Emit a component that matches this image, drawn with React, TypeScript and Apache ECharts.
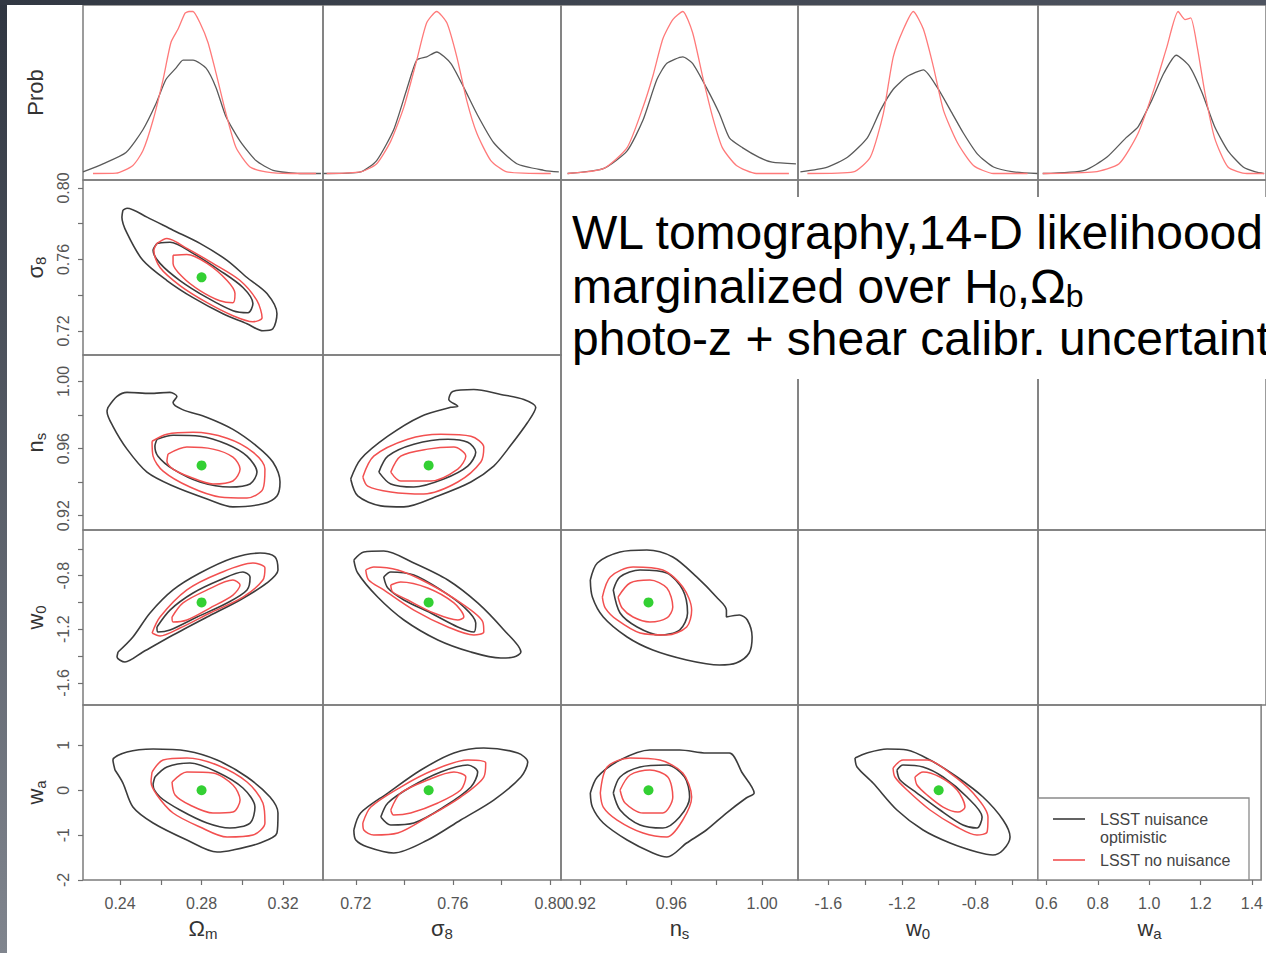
import React, { useEffect, useRef } from "react";
import * as echarts from "echarts";

const FONT = '"Liberation Sans", Arial, Helvetica, sans-serif';

// ---------------- axis ranges / ticks ----------------
const RANGE_OM = [0.2218, 0.3396];
const RANGE_S8 = [0.7065, 0.8045];
const RANGE_NS = [0.9115, 1.0158];
const RANGE_W0 = [-1.765, -0.46];
const RANGE_WA_COL = [0.567, 1.436];
const RANGE_WA_ROW = [-2.0, 1.9];
const RANGE_PROB = [-0.04, 1.04];

const TICKS_OM = [0.24, 0.26, 0.28, 0.3, 0.32];
const LABELS_OM = [0.24, 0.28, 0.32];
const TICKS_S8 = [0.72, 0.74, 0.76, 0.78, 0.8];
const LABELS_S8 = [0.72, 0.76, 0.8];
const TICKS_NS = [0.92, 0.94, 0.96, 0.98, 1.0];
const LABELS_NS = [0.92, 0.96, 1.0];
const TICKS_W0 = [-1.6, -1.4, -1.2, -1.0, -0.8, -0.6];
const LABELS_W0 = [-1.6, -1.2, -0.8];
const TICKS_WA_COL = [0.6, 0.8, 1.0, 1.2, 1.4];
const LABELS_WA_COL = [0.6, 0.8, 1.0, 1.2, 1.4];
const TICKS_WA_ROW = [-2, -1, 0, 1];
const LABELS_WA_ROW = [-2, -1, 0, 1];

const X_NAMES = ["{m|Ω}{s|m}", "{m|σ}{s|8}", "{m|n}{s|s}", "{m|w}{s|0}", "{m|w}{s|a}"];
const Y_NAMES = ["{m|Prob}", "{m|σ}{s|8}", "{m|n}{s|s}", "{m|w}{s|0}", "{m|w}{s|a}"];

// fiducial values (green dots)
const FID_OM = 0.28;
const FID_S8 = 0.75;
const FID_NS = 0.95;
const FID_W0 = -1.0;
const FID_WA = 0.0;

// ---------------- 1D marginals (x, Prob) ----------------
const OM_PROB_K = [[0.2218,0.01],[0.2316,0.06],[0.2429,0.13],[0.2512,0.27],[0.2576,0.43],[0.2625,0.58],[0.2674,0.65],[0.2709,0.70],[0.2758,0.70],[0.2822,0.65],[0.2871,0.53],[0.2920,0.35],[0.2989,0.20],[0.3067,0.08],[0.3151,0.02],[0.3283,0],[0.3386,0]];
const OM_PROB_R = [[0.2267,0],[0.2380,0.002],[0.2463,0.05],[0.2512,0.14],[0.2562,0.33],[0.2611,0.58],[0.2650,0.81],[0.2684,0.89],[0.2719,0.99],[0.2738,1.0],[0.2758,1.0],[0.2792,0.93],[0.2831,0.81],[0.2871,0.62],[0.2920,0.37],[0.2969,0.16],[0.3038,0.04],[0.3116,0.01],[0.3234,0],[0.3362,0]];
const S8_PROB_K = [[0.7068,0],[0.7220,0.01],[0.7286,0.08],[0.7356,0.27],[0.7410,0.52],[0.7451,0.70],[0.7492,0.72],[0.7533,0.75],[0.7591,0.68],[0.7645,0.53],[0.7698,0.37],[0.7768,0.19],[0.7863,0.06],[0.7974,0.02],[0.8036,0.01]];
const S8_PROB_R = [[0.7080,0],[0.7220,0.01],[0.7286,0.06],[0.7344,0.20],[0.7398,0.41],[0.7451,0.70],[0.7492,0.93],[0.7533,1.0],[0.7575,0.93],[0.7616,0.72],[0.7657,0.45],[0.7698,0.25],[0.7756,0.08],[0.7822,0.01],[0.8003,0]];
const NS_PROB_K = [[0.9144,0],[0.9301,0.03],[0.9406,0.14],[0.9476,0.33],[0.9537,0.58],[0.9581,0.68],[0.9651,0.72],[0.9694,0.68],[0.9755,0.53],[0.9812,0.37],[0.9856,0.22],[0.9913,0.16],[0.9987,0.10],[1.0044,0.07],[1.0149,0.06]];
const NS_PROB_R = [[0.9144,0],[0.9301,0.03],[0.9406,0.16],[0.9476,0.41],[0.9519,0.60],[0.9563,0.83],[0.9607,0.95],[0.9651,1.0],[0.9694,0.87],[0.9738,0.60],[0.9782,0.35],[0.9825,0.16],[0.9887,0.05],[0.9974,0],[1.0118,0]];
const W0_PROB_K = [[-1.752,0.01],[-1.605,0.04],[-1.496,0.10],[-1.388,0.22],[-1.317,0.39],[-1.247,0.52],[-1.170,0.60],[-1.083,0.64],[-1.007,0.53],[-0.936,0.39],[-0.866,0.25],[-0.789,0.12],[-0.702,0.04],[-0.593,0.01],[-0.463,0]];
const W0_PROB_R = [[-1.714,0],[-1.464,0.01],[-1.372,0.10],[-1.301,0.37],[-1.247,0.72],[-1.192,0.89],[-1.138,1.0],[-1.083,0.89],[-1.029,0.66],[-0.974,0.39],[-0.898,0.19],[-0.811,0.05],[-0.702,0],[-0.517,0]];
const WA_PROB_K = [[0.585,0],[0.745,0.02],[0.829,0.10],[0.902,0.22],[0.949,0.29],[1.000,0.45],[1.047,0.62],[1.094,0.73],[1.145,0.66],[1.192,0.50],[1.240,0.29],[1.291,0.14],[1.349,0.04],[1.396,0.01],[1.429,0]];
const WA_PROB_R = [[0.585,0],[0.782,0.01],[0.876,0.06],[0.949,0.25],[1.011,0.53],[1.058,0.78],[1.101,1.0],[1.127,0.95],[1.149,0.96],[1.174,0.78],[1.203,0.50],[1.240,0.22],[1.291,0.04],[1.363,0],[1.429,0]];

// ---------------- 2D contours ----------------
// sigma8 vs Omega_m
const OM_S8_K95 = [[0.2414,0.7876],[0.2434,0.7887],[0.2532,0.7837],[0.2660,0.7764],[0.2792,0.7690],[0.2925,0.7595],[0.3023,0.7499],[0.3121,0.7409],[0.3170,0.7296],[0.3150,0.7212],[0.3101,0.7201],[0.3023,0.7240],[0.2905,0.7296],[0.2758,0.7386],[0.2630,0.7482],[0.2512,0.7595],[0.2434,0.7747],[0.2409,0.7837]];
const OM_S8_K68 = [[0.2581,0.7690],[0.2645,0.7696],[0.2758,0.7634],[0.2890,0.7538],[0.3003,0.7443],[0.3052,0.7353],[0.3028,0.7302],[0.2954,0.7313],[0.2827,0.7386],[0.2694,0.7482],[0.2596,0.7578],[0.2562,0.7651]];
const OM_S8_R95 = [[0.2581,0.7690],[0.2630,0.7718],[0.2728,0.7662],[0.2856,0.7578],[0.2989,0.7482],[0.3072,0.7369],[0.3097,0.7274],[0.3052,0.7251],[0.2954,0.7285],[0.2827,0.7358],[0.2694,0.7454],[0.2596,0.7555],[0.2566,0.7651]];
const OM_S8_R68 = [[0.2660,0.7623],[0.2728,0.7628],[0.2827,0.7578],[0.2925,0.7482],[0.2964,0.7409],[0.2954,0.7358],[0.2890,0.7369],[0.2792,0.7426],[0.2709,0.7499],[0.2660,0.7578]];
// n_s vs Omega_m
const OM_NS_K95 = [[0.2341,0.9846],[0.2385,0.9911],[0.2434,0.9935],[0.2547,0.9929],[0.2645,0.9935],[0.2679,0.9911],[0.2660,0.9875],[0.2704,0.9834],[0.2827,0.9786],[0.2954,0.9715],[0.3072,0.9614],[0.3150,0.9520],[0.3185,0.9401],[0.3170,0.9318],[0.3101,0.9271],[0.2954,0.9253],[0.2827,0.9300],[0.2660,0.9377],[0.2532,0.9460],[0.2434,0.9597],[0.2365,0.9733],[0.2336,0.9822]];
const OM_NS_K68 = [[0.2581,0.9656],[0.2660,0.9680],[0.2792,0.9674],[0.2925,0.9626],[0.3023,0.9555],[0.3072,0.9460],[0.3038,0.9389],[0.2939,0.9371],[0.2792,0.9401],[0.2660,0.9478],[0.2586,0.9555],[0.2571,0.9614]];
const OM_NS_R95 = [[0.2557,0.9644],[0.2630,0.9686],[0.2758,0.9697],[0.2925,0.9662],[0.3052,0.9579],[0.3111,0.9478],[0.3101,0.9359],[0.3023,0.9306],[0.2890,0.9312],[0.2743,0.9371],[0.2611,0.9466],[0.2562,0.9555]];
const OM_NS_R68 = [[0.2635,0.9567],[0.2728,0.9609],[0.2856,0.9597],[0.2954,0.9549],[0.2989,0.9478],[0.2954,0.9407],[0.2856,0.9389],[0.2743,0.9431],[0.2660,0.9478],[0.2630,0.9526]];
// n_s vs sigma8
const S8_NS_K95 = [[0.7179,0.9419],[0.7220,0.9537],[0.7332,0.9674],[0.7468,0.9792],[0.7591,0.9846],[0.7620,0.9852],[0.7583,0.9893],[0.7599,0.9941],[0.7686,0.9952],[0.7797,0.9923],[0.7892,0.9893],[0.7941,0.9846],[0.7908,0.9757],[0.7826,0.9597],[0.7768,0.9496],[0.7674,0.9401],[0.7538,0.9318],[0.7398,0.9253],[0.7303,0.9259],[0.7208,0.9318]];
const S8_NS_K68 = [[0.7295,0.9460],[0.7332,0.9555],[0.7439,0.9626],[0.7579,0.9656],[0.7661,0.9638],[0.7694,0.9579],[0.7661,0.9496],[0.7562,0.9419],[0.7439,0.9371],[0.7344,0.9389]];
const S8_NS_R95 = [[0.7229,0.9431],[0.7274,0.9555],[0.7414,0.9656],[0.7550,0.9686],[0.7674,0.9674],[0.7727,0.9609],[0.7715,0.9520],[0.7620,0.9401],[0.7480,0.9330],[0.7344,0.9342],[0.7249,0.9377]];
const S8_NS_R68 = [[0.7344,0.9460],[0.7385,0.9555],[0.7496,0.9597],[0.7604,0.9609],[0.7653,0.9555],[0.7620,0.9478],[0.7509,0.9407],[0.7385,0.9407]];
// w0 vs Omega_m
const OM_W0_K95 = [[0.2390,-1.370],[0.2463,-1.258],[0.2547,-1.079],[0.2660,-0.907],[0.2792,-0.781],[0.2954,-0.669],[0.3087,-0.632],[0.3160,-0.661],[0.3175,-0.758],[0.3121,-0.855],[0.2989,-0.982],[0.2827,-1.109],[0.2660,-1.243],[0.2512,-1.370],[0.2424,-1.444],[0.2385,-1.407]];
const OM_W0_K68 = [[0.2581,-1.183],[0.2645,-1.057],[0.2758,-0.930],[0.2890,-0.833],[0.3003,-0.773],[0.3038,-0.810],[0.3023,-0.907],[0.2925,-1.004],[0.2778,-1.109],[0.2645,-1.206],[0.2586,-1.221]];
const OM_W0_R95 = [[0.2557,-1.228],[0.2596,-1.109],[0.2728,-0.907],[0.2890,-0.781],[0.3052,-0.706],[0.3111,-0.743],[0.3101,-0.833],[0.3003,-0.960],[0.2841,-1.079],[0.2694,-1.191],[0.2596,-1.250]];
const OM_W0_R68 = [[0.2655,-1.109],[0.2709,-1.004],[0.2827,-0.907],[0.2954,-0.833],[0.2989,-0.870],[0.2954,-0.945],[0.2841,-1.042],[0.2728,-1.131],[0.2660,-1.146]];
// w0 vs sigma8
const S8_W0_K95 = [[0.7192,-0.684],[0.7233,-0.624],[0.7315,-0.617],[0.7439,-0.706],[0.7579,-0.833],[0.7702,-1.004],[0.7810,-1.206],[0.7880,-1.370],[0.7851,-1.407],[0.7797,-1.415],[0.7674,-1.370],[0.7538,-1.280],[0.7398,-1.131],[0.7290,-0.960],[0.7208,-0.781]];
const S8_W0_K68 = [[0.7315,-0.810],[0.7344,-0.773],[0.7439,-0.796],[0.7550,-0.907],[0.7645,-1.034],[0.7694,-1.154],[0.7686,-1.221],[0.7620,-1.183],[0.7509,-1.079],[0.7398,-0.982],[0.7332,-0.893]];
const S8_W0_R95 = [[0.7241,-0.758],[0.7274,-0.736],[0.7373,-0.758],[0.7496,-0.855],[0.7632,-1.004],[0.7723,-1.146],[0.7727,-1.221],[0.7686,-1.243],[0.7579,-1.183],[0.7439,-1.057],[0.7315,-0.907],[0.7253,-0.833]];
const S8_W0_R68 = [[0.7344,-0.870],[0.7385,-0.848],[0.7496,-0.893],[0.7604,-1.004],[0.7645,-1.109],[0.7620,-1.131],[0.7521,-1.079],[0.7414,-0.982],[0.7352,-0.922]];
// w0 vs n_s
const NS_W0_K95 = [[0.9244,-0.833],[0.9275,-0.706],[0.9375,-0.624],[0.9493,-0.609],[0.9607,-0.661],[0.9712,-0.810],[0.9799,-0.960],[0.9843,-1.057],[0.9843,-1.109],[0.9900,-1.094],[0.9935,-1.131],[0.9956,-1.258],[0.9943,-1.377],[0.9886,-1.452],[0.9812,-1.467],[0.9668,-1.429],[0.9519,-1.355],[0.9406,-1.258],[0.9301,-1.109],[0.9253,-0.960]];
const NS_W0_K68 = [[0.9345,-0.907],[0.9375,-0.810],[0.9463,-0.758],[0.9581,-0.781],[0.9651,-0.907],[0.9672,-1.079],[0.9637,-1.206],[0.9550,-1.243],[0.9450,-1.183],[0.9375,-1.079]];
const NS_W0_R95 = [[0.9297,-0.960],[0.9332,-0.810],[0.9432,-0.736],[0.9563,-0.758],[0.9651,-0.885],[0.9690,-1.057],[0.9668,-1.183],[0.9581,-1.243],[0.9463,-1.228],[0.9362,-1.131],[0.9310,-1.042]];
const NS_W0_R68 = [[0.9366,-0.960],[0.9419,-0.855],[0.9506,-0.833],[0.9581,-0.893],[0.9607,-1.034],[0.9581,-1.116],[0.9506,-1.146],[0.9432,-1.109],[0.9384,-1.042]];
// wa vs Omega_m
const OM_WA_K95 = [[0.2375,0.451],[0.2365,0.674],[0.2434,0.852],[0.2562,0.919],[0.2728,0.875],[0.2876,0.674],[0.3023,0.295],[0.3136,-0.151],[0.3175,-0.507],[0.3170,-0.953],[0.3087,-1.176],[0.2954,-1.332],[0.2876,-1.377],[0.2728,-1.109],[0.2562,-0.730],[0.2463,-0.374],[0.2414,0.161]];
const OM_WA_K68 = [[0.2571,0.295],[0.2630,0.518],[0.2743,0.607],[0.2876,0.407],[0.3003,0.050],[0.3062,-0.374],[0.3038,-0.730],[0.2939,-0.842],[0.2827,-0.730],[0.2694,-0.440],[0.2596,-0.151],[0.2562,0.117]];
const OM_WA_R95 = [[0.2557,0.407],[0.2611,0.674],[0.2728,0.719],[0.2876,0.563],[0.3023,0.184],[0.3101,-0.284],[0.3111,-0.730],[0.3052,-0.998],[0.2925,-1.042],[0.2792,-0.819],[0.2660,-0.507],[0.2581,-0.106],[0.2552,0.184]];
const OM_WA_R68 = [[0.2655,0.184],[0.2728,0.407],[0.2856,0.384],[0.2954,0.117],[0.2989,-0.218],[0.2954,-0.485],[0.2856,-0.507],[0.2743,-0.329],[0.2670,-0.106]];
// wa vs sigma8
const S8_WA_K95 = [[0.7192,-0.886],[0.7220,-0.507],[0.7332,-0.062],[0.7468,0.451],[0.7604,0.830],[0.7727,0.942],[0.7867,0.830],[0.7908,0.629],[0.7880,0.295],[0.7768,-0.218],[0.7632,-0.663],[0.7496,-1.109],[0.7356,-1.399],[0.7249,-1.265],[0.7200,-1.109]];
const S8_WA_K68 = [[0.7303,-0.596],[0.7332,-0.284],[0.7426,0.072],[0.7550,0.407],[0.7661,0.563],[0.7702,0.407],[0.7674,0.072],[0.7562,-0.374],[0.7439,-0.730],[0.7344,-0.775]];
const S8_WA_R95 = [[0.7229,-0.730],[0.7262,-0.374],[0.7385,0.072],[0.7521,0.451],[0.7661,0.674],[0.7735,0.607],[0.7727,0.295],[0.7632,-0.151],[0.7496,-0.596],[0.7373,-0.953],[0.7274,-0.998],[0.7233,-0.886]];
const S8_WA_R68 = [[0.7344,-0.440],[0.7385,-0.062],[0.7496,0.228],[0.7604,0.407],[0.7653,0.295],[0.7632,0.005],[0.7538,-0.284],[0.7426,-0.507],[0.7356,-0.552]];
// wa vs n_s
const NS_WA_K95 = [[0.9244,-0.062],[0.9275,0.295],[0.9375,0.674],[0.9506,0.897],[0.9637,0.897],[0.9755,0.830],[0.9856,0.830],[0.9913,0.384],[0.9965,-0.062],[0.9930,-0.173],[0.9843,-0.507],[0.9755,-0.886],[0.9668,-1.176],[0.9581,-1.488],[0.9519,-1.399],[0.9406,-1.109],[0.9301,-0.730],[0.9253,-0.374]];
const NS_WA_K68 = [[0.9345,-0.062],[0.9375,0.295],[0.9463,0.518],[0.9581,0.563],[0.9659,0.295],[0.9681,-0.151],[0.9637,-0.596],[0.9563,-0.842],[0.9463,-0.775],[0.9375,-0.440]];
const NS_WA_R95 = [[0.9288,-0.062],[0.9318,0.518],[0.9419,0.719],[0.9550,0.674],[0.9651,0.384],[0.9690,-0.151],[0.9651,-0.663],[0.9581,-1.042],[0.9476,-0.953],[0.9362,-0.663],[0.9301,-0.374]];
const NS_WA_R68 = [[0.9375,0.005],[0.9419,0.340],[0.9506,0.451],[0.9585,0.295],[0.9607,-0.151],[0.9563,-0.507],[0.9476,-0.507],[0.9397,-0.284]];
// wa vs w0
const W0_WA_K95 = [[-1.455,0.719],[-1.390,0.830],[-1.281,0.919],[-1.172,0.897],[-1.047,0.674],[-0.900,0.295],[-0.759,-0.151],[-0.650,-0.663],[-0.612,-1.042],[-0.650,-1.332],[-0.705,-1.444],[-0.792,-1.377],[-0.938,-1.176],[-1.085,-0.886],[-1.227,-0.440],[-1.357,0.161],[-1.444,0.518]];
const W0_WA_K68 = [[-1.227,0.451],[-1.194,0.563],[-1.085,0.518],[-0.976,0.295],[-0.846,-0.151],[-0.764,-0.596],[-0.792,-0.842],[-0.868,-0.775],[-0.993,-0.440],[-1.118,-0.062],[-1.210,0.228]];
const W0_WA_R95 = [[-1.248,0.496],[-1.194,0.674],[-1.063,0.674],[-0.938,0.384],[-0.813,-0.062],[-0.732,-0.596],[-0.737,-0.931],[-0.792,-0.998],[-0.900,-0.819],[-1.047,-0.440],[-1.172,0.005],[-1.238,0.295]];
const W0_WA_R68 = [[-1.129,0.295],[-1.085,0.407],[-0.993,0.295],[-0.900,0.005],[-0.857,-0.374],[-0.895,-0.485],[-0.976,-0.374],[-1.063,-0.106],[-1.118,0.117]];

const LEGEND_BLACK = "LSST nuisance";
const LEGEND_BLACK_2 = "optimistic";
const LEGEND_RED = "LSST no nuisance";
const NOTE_1 = "WL tomography,14-D likelihoood:";
const NOTE_2 = "{a|marginalized over H}{b|0}{a|,Ω}{b|b}";
const NOTE_3 = "photo-z + shear calibr. uncertainty";

// ---------------- layout / style ----------------
const COL_LEFT = [83, 323, 561, 798, 1038];
const COL_WIDTH = [240, 238, 237, 240, 239];
const ROW_TOP = [5, 180, 355, 530, 705];
const ROW_HEIGHT = 175;
const BORDER = "#7c7c7c";
const TICK_COLOR = "#707070";
const LABEL_COLOR = "#555555";
const NAME_COLOR = "#333333";
const BLACK = "#3c3c3c";
const RED = "#f25050";
const GREEN = "#00c400";

const X_RANGES = [RANGE_OM, RANGE_S8, RANGE_NS, RANGE_W0, RANGE_WA_COL];
const X_TICKS = [TICKS_OM, TICKS_S8, TICKS_NS, TICKS_W0, TICKS_WA_COL];
const X_LABELS = [LABELS_OM, LABELS_S8, LABELS_NS, LABELS_W0, LABELS_WA_COL];
const X_DEC = [2, 2, 2, 1, 1];
const Y_RANGES = [RANGE_PROB, RANGE_S8, RANGE_NS, RANGE_W0, RANGE_WA_ROW];
const Y_TICKS = [[], TICKS_S8, TICKS_NS, TICKS_W0, TICKS_WA_ROW];
const Y_LABELS = [[], LABELS_S8, LABELS_NS, LABELS_W0, LABELS_WA_ROW];
const Y_DEC = [0, 2, 2, 1, 0];

const TOP_CURVES = [
  { col: 0, k: OM_PROB_K, r: OM_PROB_R },
  { col: 1, k: S8_PROB_K, r: S8_PROB_R },
  { col: 2, k: NS_PROB_K, r: NS_PROB_R },
  { col: 3, k: W0_PROB_K, r: W0_PROB_R },
  { col: 4, k: WA_PROB_K, r: WA_PROB_R },
];

const PANELS = [
  { row: 1, col: 0, k95: OM_S8_K95, k68: OM_S8_K68, r95: OM_S8_R95, r68: OM_S8_R68, dot: [FID_OM, FID_S8] },
  { row: 2, col: 0, k95: OM_NS_K95, k68: OM_NS_K68, r95: OM_NS_R95, r68: OM_NS_R68, dot: [FID_OM, FID_NS] },
  { row: 2, col: 1, k95: S8_NS_K95, k68: S8_NS_K68, r95: S8_NS_R95, r68: S8_NS_R68, dot: [FID_S8, FID_NS] },
  { row: 3, col: 0, k95: OM_W0_K95, k68: OM_W0_K68, r95: OM_W0_R95, r68: OM_W0_R68, dot: [FID_OM, FID_W0] },
  { row: 3, col: 1, k95: S8_W0_K95, k68: S8_W0_K68, r95: S8_W0_R95, r68: S8_W0_R68, dot: [FID_S8, FID_W0] },
  { row: 3, col: 2, k95: NS_W0_K95, k68: NS_W0_K68, r95: NS_W0_R95, r68: NS_W0_R68, dot: [FID_NS, FID_W0] },
  { row: 4, col: 0, k95: OM_WA_K95, k68: OM_WA_K68, r95: OM_WA_R95, r68: OM_WA_R68, dot: [FID_OM, FID_WA] },
  { row: 4, col: 1, k95: S8_WA_K95, k68: S8_WA_K68, r95: S8_WA_R95, r68: S8_WA_R68, dot: [FID_S8, FID_WA] },
  { row: 4, col: 2, k95: NS_WA_K95, k68: NS_WA_K68, r95: NS_WA_R95, r68: NS_WA_R68, dot: [FID_NS, FID_WA] },
  { row: 4, col: 3, k95: W0_WA_K95, k68: W0_WA_K68, r95: W0_WA_R95, r68: W0_WA_R68, dot: [FID_W0, FID_WA] },
];

const nameTextStyle = {
  color: NAME_COLOR,
  fontFamily: FONT,
  rich: {
    m: { fontSize: 22, lineHeight: 28, fontFamily: FONT, color: NAME_COLOR },
    s: { fontSize: 15, lineHeight: 28, padding: [12, 0, 0, 0], verticalAlign: "top", fontFamily: FONT, color: NAME_COLOR },
  },
};

function buildOption() {
  const grids: any[] = [];
  const xAxes: any[] = [];
  const yAxes: any[] = [];
  for (let r = 0; r < 5; r++) {
    for (let c = 0; c < 5; c++) {
      const idx = r * 5 + c;
      const bottom = r === 4;
      const left = c === 0;
      grids.push({
        left: COL_LEFT[c], top: ROW_TOP[r], width: COL_WIDTH[c], height: ROW_HEIGHT,
        show: true, borderColor: BORDER, borderWidth: 1.5, backgroundColor: "transparent",
        containLabel: false,
      });
      xAxes.push({
        type: "value", gridIndex: idx, position: "bottom",
        min: X_RANGES[c][0], max: X_RANGES[c][1],
        axisLine: { show: false, onZero: false }, splitLine: { show: false },
        axisTick: { show: bottom, length: 5, customValues: X_TICKS[c], lineStyle: { color: TICK_COLOR, width: 1.2 } },
        axisLabel: {
          show: bottom, customValues: X_LABELS[c], margin: 15, fontSize: 16, fontFamily: FONT, color: LABEL_COLOR,
          formatter: (v: number) => v.toFixed(X_DEC[c]),
        },
        name: bottom ? X_NAMES[c] : "", nameLocation: "middle", nameGap: 34, nameTextStyle,
      });
      const yShow = left && r > 0;
      yAxes.push({
        type: "value", gridIndex: idx, position: "left",
        min: Y_RANGES[r][0], max: Y_RANGES[r][1],
        axisLine: { show: false, onZero: false }, splitLine: { show: false },
        axisTick: { show: yShow, length: 5, customValues: Y_TICKS[r], lineStyle: { color: TICK_COLOR, width: 1.2 } },
        axisLabel: {
          show: yShow, customValues: Y_LABELS[r], rotate: 90, margin: 12, fontSize: 16, fontFamily: FONT, color: LABEL_COLOR,
          formatter: (v: number) => v.toFixed(Y_DEC[r]),
        },
        name: left ? Y_NAMES[r] : "", nameLocation: "middle", nameGap: 34, nameTextStyle,
      });
    }
  }

  const series: any[] = [];
  const line = (grid: number, data: number[][], color: string, width: number, closed: boolean, name: string) => ({
    type: "line", name, xAxisIndex: grid, yAxisIndex: grid,
    data: closed ? [...data, data[0]] : data,
    showSymbol: false, symbol: "none", smooth: closed ? 0.3 : 0.2, silent: true,
    lineStyle: { color, width }, z: 3,
  });

  TOP_CURVES.forEach((t) => {
    series.push(line(t.col, t.k, "#5a5a5a", 1.3, false, LEGEND_BLACK));
    series.push(line(t.col, t.r, "#ff7a7a", 1.3, false, LEGEND_RED));
  });

  PANELS.forEach((p) => {
    const g = p.row * 5 + p.col;
    series.push(line(g, p.k95, BLACK, 1.6, true, LEGEND_BLACK));
    series.push(line(g, p.k68, BLACK, 1.6, true, LEGEND_BLACK));
    series.push(line(g, p.r95, RED, 1.5, true, LEGEND_RED));
    series.push(line(g, p.r68, RED, 1.5, true, LEGEND_RED));
    series.push({
      type: "scatter", xAxisIndex: g, yAxisIndex: g, data: [p.dot],
      symbolSize: 10, itemStyle: { color: GREEN }, silent: true, z: 5,
    });
  });

  const graphic: any[] = [
    // slide frame
    {
      type: "rect", z: 50, silent: true,
      shape: { x: 0, y: 0, width: 7, height: 953 },
      style: { fill: new echarts.graphic.LinearGradient(0, 0, 0, 1, [{ offset: 0, color: "#2f3540" }, { offset: 1, color: "#80858e" }]) },
    },
    {
      type: "rect", z: 50, silent: true,
      shape: { x: 0, y: 0, width: 1266, height: 5 },
      style: { fill: new echarts.graphic.LinearGradient(0, 0, 1, 0, [{ offset: 0, color: "#323843" }, { offset: 1, color: "#4e5460" }]) },
    },
    // annotation box
    {
      type: "rect", z: 40, silent: true,
      shape: { x: 562, y: 197, width: 720, height: 182 },
      style: { fill: "#ffffff" },
    },
    {
      type: "text", z: 41, silent: true, x: 572, y: 232,
      style: { text: NOTE_1, fill: "#000", font: `48px ${FONT}`, verticalAlign: "middle", textVerticalAlign: "middle" },
    },
    {
      type: "text", z: 41, silent: true, x: 572, y: 286,
      style: {
        text: NOTE_2, fill: "#000", verticalAlign: "middle", textVerticalAlign: "middle",
        rich: {
          a: { fontSize: 48, lineHeight: 56, fontFamily: FONT, fill: "#000", color: "#000" },
          b: { fontSize: 32, lineHeight: 56, fontFamily: FONT, fill: "#000", color: "#000", verticalAlign: "top", padding: [22, 0, 0, 0] },
        },
      },
    },
    {
      type: "text", z: 41, silent: true, x: 572, y: 338,
      style: { text: NOTE_3, fill: "#000", font: `48px ${FONT}`, verticalAlign: "middle", textVerticalAlign: "middle" },
    },
    // legend
    {
      type: "rect", z: 40, silent: true,
      shape: { x: 1038, y: 798, width: 211, height: 82 },
      style: { fill: "#ffffff", stroke: "#8a8a8a", lineWidth: 1.3 },
    },
    { type: "line", z: 41, silent: true, shape: { x1: 1053, y1: 819, x2: 1085, y2: 819 }, style: { stroke: BLACK, lineWidth: 1.6 } },
    { type: "line", z: 41, silent: true, shape: { x1: 1053, y1: 860, x2: 1085, y2: 860 }, style: { stroke: RED, lineWidth: 1.6 } },
    { type: "text", z: 41, silent: true, x: 1100, y: 819, style: { text: LEGEND_BLACK, fill: "#444", font: `16px ${FONT}`, verticalAlign: "middle", textVerticalAlign: "middle" } },
    { type: "text", z: 41, silent: true, x: 1100, y: 837, style: { text: LEGEND_BLACK_2, fill: "#444", font: `16px ${FONT}`, verticalAlign: "middle", textVerticalAlign: "middle" } },
    { type: "text", z: 41, silent: true, x: 1100, y: 860, style: { text: LEGEND_RED, fill: "#444", font: `16px ${FONT}`, verticalAlign: "middle", textVerticalAlign: "middle" } },
  ];

  return {
    animation: false,
    backgroundColor: "#ffffff",
    grid: grids,
    xAxis: xAxes,
    yAxis: yAxes,
    series,
    graphic,
  };
}

export default function App() {
  const ref = useRef<HTMLDivElement>(null);
  useEffect(() => {
    if (!ref.current) return;
    const chart = echarts.init(ref.current, null, { renderer: "svg" });
    chart.setOption(buildOption() as any);
    return () => chart.dispose();
  }, []);
  return (
    <div
      ref={ref}
      style={{ position: "fixed", left: 0, top: 0, width: 1266, height: 953, background: "#fff" }}
    />
  );
}
